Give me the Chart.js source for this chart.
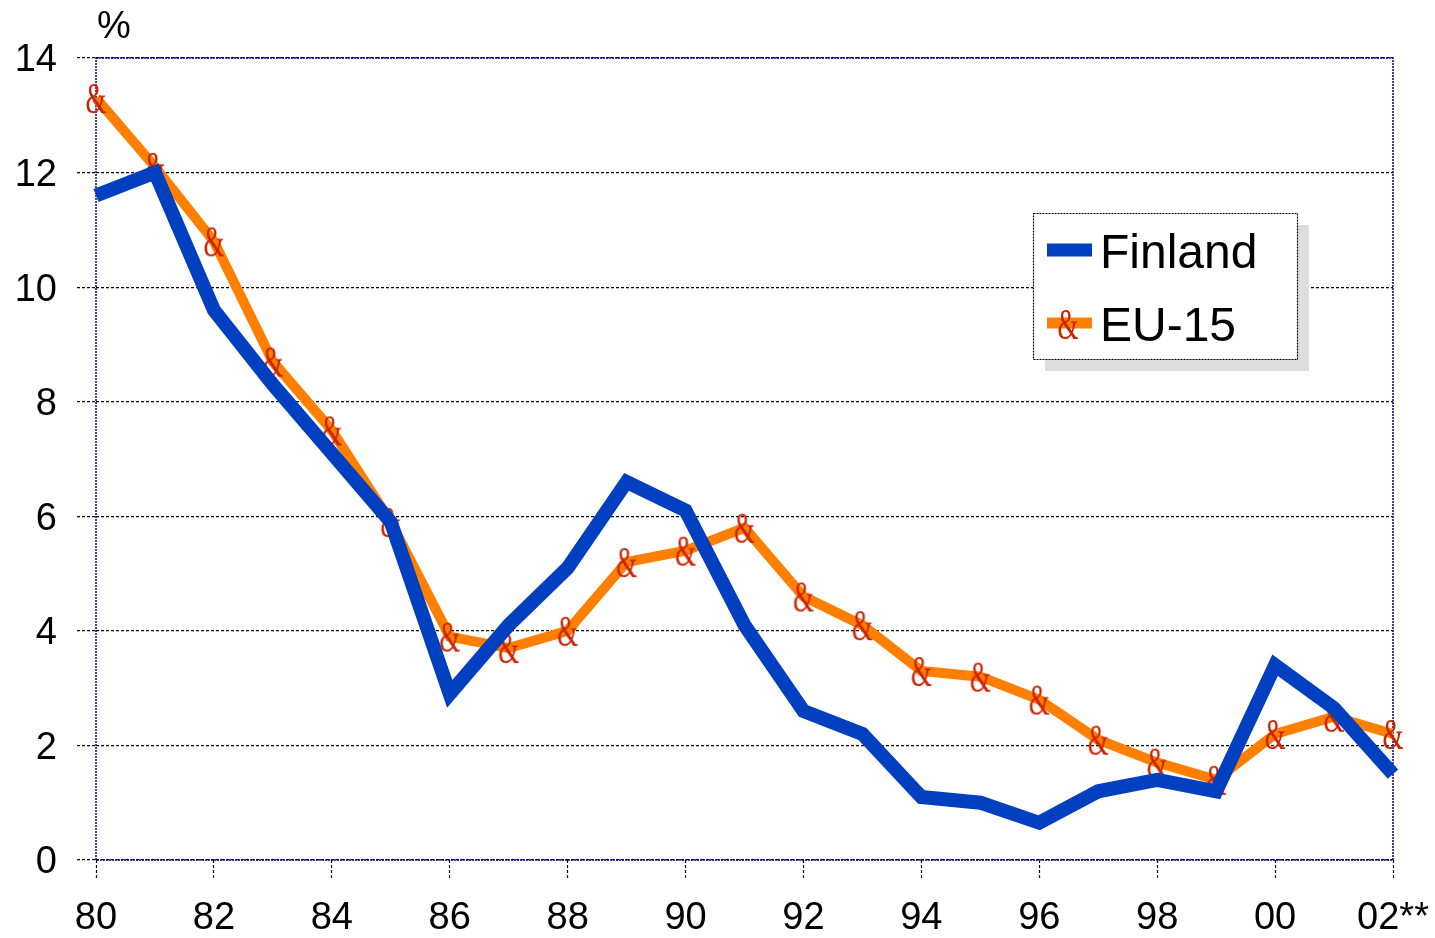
<!DOCTYPE html>
<html>
<head>
<meta charset="utf-8">
<script src="https://cdn.jsdelivr.net/npm/chart.js@4.4.1/dist/chart.umd.min.js"></script>
<style>
html,body{margin:0;padding:0;background:#fff;}
#wrap{width:1435px;height:938px;}
</style>
</head>
<body>
<div id="wrap"><canvas id="c" width="1435" height="938"></canvas></div>
<script>
const years = ['80','81','82','83','84','85','86','87','88','89','90','91','92','93','94','95','96','97','98','99','00','01','02**'];
const finland = [11.6,12.0,9.6,8.3,7.1,5.9,2.9,4.1,5.1,6.6,6.1,4.1,2.6,2.2,1.1,1.0,0.65,1.2,1.4,1.2,3.4,2.65,1.5];
const eu15 = [13.3,12.1,10.8,8.7,7.5,5.9,3.9,3.7,4.0,5.2,5.4,5.8,4.6,4.1,3.3,3.2,2.8,2.1,1.7,1.4,2.2,2.5,2.2];
const seriesNames = ['Finland','EU-15'];
const unitLabel = '%';
const markerGlyph = '&';

const BLUE = '#0040C0';
const ORANGE = '#FF8000';
const MARK = '#CC2200';

// marker image: a tall narrow ampersand glyph
const markImg = document.createElement('canvas');
markImg.width = 30; markImg.height = 44;
(function () {
  const g = markImg.getContext('2d');
  g.fillStyle = MARK;
  g.font = '45px "Liberation Serif", "DejaVu Serif", serif';
  g.textAlign = 'center';
  g.textBaseline = 'alphabetic';
  g.translate(15, 0);
  g.scale(0.6, 1);
  g.fillText(markerGlyph, 0, 37);
})();

const framePlugin = {
  id: 'frame',
  beforeDatasetsDraw(chart) {
    const {ctx, chartArea: a} = chart;
    ctx.save();
    ctx.strokeStyle = '#000080';
    ctx.lineWidth = 1.5;
    ctx.setLineDash([2, 1]);
    ctx.strokeRect(a.left, a.top, a.right - a.left, a.bottom - a.top);
    ctx.restore();
  },
  afterDraw(chart) {
    const {ctx} = chart;
    ctx.save();
    ctx.fillStyle = '#000';
    ctx.font = '38px "Liberation Sans", Arial, sans-serif';
    ctx.textAlign = 'center';
    ctx.textBaseline = 'alphabetic';
    ctx.fillText(unitLabel, 114, 38);
    // legend
    const bx = 1033, by = 213, bw = 264, bh = 146;
    ctx.fillStyle = '#DDDDDD';
    ctx.fillRect(bx + 12, by + 12, bw, bh);
    ctx.fillStyle = '#FFFFFF';
    ctx.fillRect(bx, by, bw, bh);
    ctx.strokeStyle = '#000';
    ctx.lineWidth = 1.2;
    ctx.setLineDash([2, 1]);
    ctx.strokeRect(bx + 0.5, by + 0.5, bw, bh);
    ctx.setLineDash([]);
    const ds = chart.data.datasets;
    const rows = [250, 323];
    ds.forEach((d, i) => {
      const y = rows[i];
      ctx.fillStyle = d.borderColor;
      const h = i === 0 ? 13 : 11;
      ctx.fillRect(1047, y - h / 2, 45, h);
      if (i === 1) {
        ctx.drawImage(markImg, 1068 - markImg.width / 2, y - markImg.height / 2 + 1);
      }
      ctx.fillStyle = '#000';
      ctx.font = '48px "Liberation Sans", Arial, sans-serif';
      ctx.textAlign = 'left';
      ctx.textBaseline = 'alphabetic';
      ctx.fillText(d.label, 1100, y + 18);
    });
    ctx.restore();
  }
};

new Chart(document.getElementById('c'), {
  type: 'line',
  data: {
    labels: years,
    datasets: [
      {label: seriesNames[0], data: finland, borderColor: BLUE, backgroundColor: BLUE,
       borderWidth: 14, pointRadius: 0, tension: 0, borderJoinStyle: 'miter', borderCapStyle: 'butt'},
      {label: seriesNames[1], data: eu15, borderColor: ORANGE, backgroundColor: ORANGE,
       borderWidth: 10, pointRadius: 15, pointStyle: markImg, tension: 0,
       borderJoinStyle: 'miter', borderCapStyle: 'butt'}
    ]
  },
  options: {
    responsive: false,
    animation: false,
    devicePixelRatio: 1,
    layout: {padding: {top: 58, right: 42, left: 0, bottom: 0}},
    plugins: {legend: {display: false}, tooltip: {enabled: false}},
    scales: {
      x: {
        offset: false,
        afterFit(s) { s.height = 78; s.paddingLeft = 0; s.paddingRight = 0; },
        grid: {
          drawOnChartArea: false,
          drawTicks: true,
          tickLength: 18,
          tickWidth: 1.2,
          tickColor: c => (c.index % 2 === 0 ? '#000' : 'rgba(0,0,0,0)'),
          color: c => (c.index % 2 === 0 ? '#000' : 'rgba(0,0,0,0)'),
          tickBorderDash: [3, 2]
        },
        border: {display: false},
        ticks: {
          autoSkip: false,
          maxRotation: 0,
          padding: 18,
          color: '#000',
          font: {family: '"Liberation Sans", Arial, sans-serif', size: 38},
          callback: (v, i) => (i % 2 === 0 ? years[i] : '')
        }
      },
      y: {
        min: 0, max: 14,
        afterFit(s) { s.width = 96; s.paddingTop = 0; s.paddingBottom = 0; },
        grid: {
          color: '#000',
          lineWidth: 1.2,
          drawTicks: true,
          tickLength: 19,
          tickColor: '#000',
          tickBorderDash: [3, 2]
        },
        border: {display: false, dash: [3, 2]},
        ticks: {
          stepSize: 2,
          padding: 20,
          labelOffset: 3,
          color: '#000',
          font: {family: '"Liberation Sans", Arial, sans-serif', size: 38}
        }
      }
    }
  },
  plugins: [framePlugin]
});
</script>
</body>
</html>
